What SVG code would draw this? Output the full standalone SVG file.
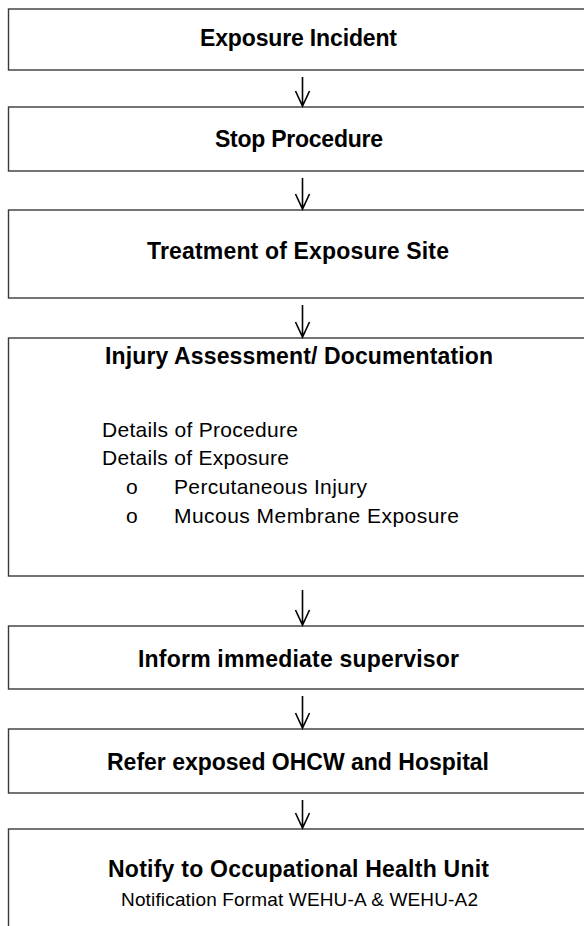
<svg xmlns="http://www.w3.org/2000/svg" width="584" height="926" viewBox="0 0 584 926">
<style>
.box{fill:#fff;stroke:#3a3a3a;stroke-width:1.4}
.h{font-family:"Liberation Sans",Arial,sans-serif;font-weight:bold;font-size:23px;fill:#000}
.t{font-family:"Liberation Sans",Arial,sans-serif;font-size:21px;fill:#000}
.s{font-family:"Liberation Sans",Arial,sans-serif;font-size:19px;fill:#000}
.arr{fill:none;stroke:#000;stroke-width:1.6}
</style>
<rect width="584" height="926" fill="#fff"/>
<g id="n1"><rect class="box" x="8.5" y="9" width="600" height="61"/><text class="h" x="200" y="46" textLength="197">Exposure Incident</text></g>
<g id="n2"><rect class="box" x="8.5" y="107" width="600" height="64"/><text class="h" x="215" y="147" textLength="168">Stop Procedure</text></g>
<g id="n3"><rect class="box" x="8.5" y="210" width="600" height="88"/><text class="h" x="147" y="259" textLength="302">Treatment of Exposure Site</text></g>
<g id="n4"><rect class="box" x="8.5" y="338" width="600" height="238"/><text class="h" x="105" y="364" textLength="388">Injury Assessment/ Documentation</text>
<text class="t" x="102" y="437" textLength="196">Details of Procedure</text>
<text class="t" x="102" y="465" textLength="187">Details of Exposure</text>
<text class="t" x="126" y="494">o</text><text class="t" x="174" y="494" textLength="193">Percutaneous Injury</text>
<text class="t" x="126" y="523">o</text><text class="t" x="174" y="523" textLength="285">Mucous Membrane Exposure</text></g>
<g id="n5"><rect class="box" x="8.5" y="626" width="600" height="63"/><text class="h" x="138" y="667" textLength="321">Inform immediate supervisor</text></g>
<g id="n6"><rect class="box" x="8.5" y="729" width="600" height="64"/><text class="h" x="107" y="770" textLength="382">Refer exposed OHCW and Hospital</text></g>
<g id="n7"><rect class="box" x="8.5" y="829" width="600" height="120"/><text class="h" x="108" y="877" textLength="381">Notify to Occupational Health Unit</text>
<text class="s" x="121" y="906" textLength="357">Notification Format WEHU-A &amp; WEHU-A2</text></g>
<g id="connectors">
<path class="arr" d="M302.5 77V106M295.5 91L302.5 106L309.5 91"/>
<path class="arr" d="M302.5 178V209M295.5 194L302.5 209L309.5 194"/>
<path class="arr" d="M302.5 305V337M295.5 322L302.5 337L309.5 322"/>
<path class="arr" d="M302.5 590V625M295.5 610L302.5 625L309.5 610"/>
<path class="arr" d="M302.5 696V728M295.5 713L302.5 728L309.5 713"/>
<path class="arr" d="M302.5 800V828M295.5 813L302.5 828L309.5 813"/>
</g>
</svg>
